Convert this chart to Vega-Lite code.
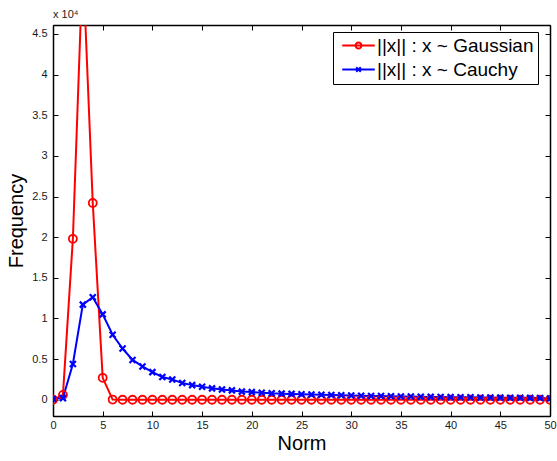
{
  "$schema": "https://vega.github.io/schema/vega-lite/v6.json",
  "autosize": {"type": "none"},
  "width": 497,
  "height": 391,
  "padding": {"left": 53, "top": 25, "right": 7, "bottom": 45},
  "background": "white",
  "config": {
    "font": "Liberation Sans",
    "view": {"stroke": "black", "strokeWidth": 1},
    "axis": {"labelFont": "Liberation Sans", "labelFontSize": 11, "labelColor": "#1a1a1a", "tickColor": "black", "domainColor": "black", "domainWidth": 1.5, "tickWidth": 1, "grid": false, "titleFont": "Liberation Sans", "titleFontWeight": "normal", "titleColor": "black"}
  },
  "title": {"text": "x 10⁴", "anchor": "start", "frame": "group", "fontSize": 11, "fontWeight": "normal", "font": "Liberation Sans", "offset": 5, "color": "#1a1a1a"},
  "data": {"values": [
    {"x": 0, "y": 0, "s": "||x|| : x ~ Gaussian"},
    {"x": 1, "y": 600, "s": "||x|| : x ~ Gaussian"},
    {"x": 2, "y": 19800, "s": "||x|| : x ~ Gaussian"},
    {"x": 3, "y": 54000, "s": "||x|| : x ~ Gaussian"},
    {"x": 4, "y": 24200, "s": "||x|| : x ~ Gaussian"},
    {"x": 5, "y": 2700, "s": "||x|| : x ~ Gaussian"},
    {"x": 6, "y": 20, "s": "||x|| : x ~ Gaussian"},
    {"x": 7, "y": 0, "s": "||x|| : x ~ Gaussian"},
    {"x": 8, "y": 0, "s": "||x|| : x ~ Gaussian"},
    {"x": 9, "y": 0, "s": "||x|| : x ~ Gaussian"},
    {"x": 10, "y": 0, "s": "||x|| : x ~ Gaussian"},
    {"x": 11, "y": 0, "s": "||x|| : x ~ Gaussian"},
    {"x": 12, "y": 0, "s": "||x|| : x ~ Gaussian"},
    {"x": 13, "y": 0, "s": "||x|| : x ~ Gaussian"},
    {"x": 14, "y": 0, "s": "||x|| : x ~ Gaussian"},
    {"x": 15, "y": 0, "s": "||x|| : x ~ Gaussian"},
    {"x": 16, "y": 0, "s": "||x|| : x ~ Gaussian"},
    {"x": 17, "y": 0, "s": "||x|| : x ~ Gaussian"},
    {"x": 18, "y": 0, "s": "||x|| : x ~ Gaussian"},
    {"x": 19, "y": 0, "s": "||x|| : x ~ Gaussian"},
    {"x": 20, "y": 0, "s": "||x|| : x ~ Gaussian"},
    {"x": 21, "y": 0, "s": "||x|| : x ~ Gaussian"},
    {"x": 22, "y": 0, "s": "||x|| : x ~ Gaussian"},
    {"x": 23, "y": 0, "s": "||x|| : x ~ Gaussian"},
    {"x": 24, "y": 0, "s": "||x|| : x ~ Gaussian"},
    {"x": 25, "y": 0, "s": "||x|| : x ~ Gaussian"},
    {"x": 26, "y": 0, "s": "||x|| : x ~ Gaussian"},
    {"x": 27, "y": 0, "s": "||x|| : x ~ Gaussian"},
    {"x": 28, "y": 0, "s": "||x|| : x ~ Gaussian"},
    {"x": 29, "y": 0, "s": "||x|| : x ~ Gaussian"},
    {"x": 30, "y": 0, "s": "||x|| : x ~ Gaussian"},
    {"x": 31, "y": 0, "s": "||x|| : x ~ Gaussian"},
    {"x": 32, "y": 0, "s": "||x|| : x ~ Gaussian"},
    {"x": 33, "y": 0, "s": "||x|| : x ~ Gaussian"},
    {"x": 34, "y": 0, "s": "||x|| : x ~ Gaussian"},
    {"x": 35, "y": 0, "s": "||x|| : x ~ Gaussian"},
    {"x": 36, "y": 0, "s": "||x|| : x ~ Gaussian"},
    {"x": 37, "y": 0, "s": "||x|| : x ~ Gaussian"},
    {"x": 38, "y": 0, "s": "||x|| : x ~ Gaussian"},
    {"x": 39, "y": 0, "s": "||x|| : x ~ Gaussian"},
    {"x": 40, "y": 0, "s": "||x|| : x ~ Gaussian"},
    {"x": 41, "y": 0, "s": "||x|| : x ~ Gaussian"},
    {"x": 42, "y": 0, "s": "||x|| : x ~ Gaussian"},
    {"x": 43, "y": 0, "s": "||x|| : x ~ Gaussian"},
    {"x": 44, "y": 0, "s": "||x|| : x ~ Gaussian"},
    {"x": 45, "y": 0, "s": "||x|| : x ~ Gaussian"},
    {"x": 46, "y": 0, "s": "||x|| : x ~ Gaussian"},
    {"x": 47, "y": 0, "s": "||x|| : x ~ Gaussian"},
    {"x": 48, "y": 0, "s": "||x|| : x ~ Gaussian"},
    {"x": 49, "y": 0, "s": "||x|| : x ~ Gaussian"},
    {"x": 50, "y": 0, "s": "||x|| : x ~ Gaussian"},
    {"x": 0, "y": 100, "s": "||x|| : x ~ Cauchy"},
    {"x": 1, "y": 200, "s": "||x|| : x ~ Cauchy"},
    {"x": 2, "y": 4400, "s": "||x|| : x ~ Cauchy"},
    {"x": 3, "y": 11700, "s": "||x|| : x ~ Cauchy"},
    {"x": 4, "y": 12600, "s": "||x|| : x ~ Cauchy"},
    {"x": 5, "y": 10500, "s": "||x|| : x ~ Cauchy"},
    {"x": 6, "y": 8000, "s": "||x|| : x ~ Cauchy"},
    {"x": 7, "y": 6300, "s": "||x|| : x ~ Cauchy"},
    {"x": 8, "y": 4900, "s": "||x|| : x ~ Cauchy"},
    {"x": 9, "y": 4100, "s": "||x|| : x ~ Cauchy"},
    {"x": 10, "y": 3400, "s": "||x|| : x ~ Cauchy"},
    {"x": 11, "y": 2800, "s": "||x|| : x ~ Cauchy"},
    {"x": 12, "y": 2500, "s": "||x|| : x ~ Cauchy"},
    {"x": 13, "y": 2050, "s": "||x|| : x ~ Cauchy"},
    {"x": 14, "y": 1800, "s": "||x|| : x ~ Cauchy"},
    {"x": 15, "y": 1600, "s": "||x|| : x ~ Cauchy"},
    {"x": 16, "y": 1400, "s": "||x|| : x ~ Cauchy"},
    {"x": 17, "y": 1250, "s": "||x|| : x ~ Cauchy"},
    {"x": 18, "y": 1150, "s": "||x|| : x ~ Cauchy"},
    {"x": 19, "y": 1000, "s": "||x|| : x ~ Cauchy"},
    {"x": 20, "y": 940, "s": "||x|| : x ~ Cauchy"},
    {"x": 21, "y": 860, "s": "||x|| : x ~ Cauchy"},
    {"x": 22, "y": 790, "s": "||x|| : x ~ Cauchy"},
    {"x": 23, "y": 750, "s": "||x|| : x ~ Cauchy"},
    {"x": 24, "y": 720, "s": "||x|| : x ~ Cauchy"},
    {"x": 25, "y": 680, "s": "||x|| : x ~ Cauchy"},
    {"x": 26, "y": 640, "s": "||x|| : x ~ Cauchy"},
    {"x": 27, "y": 610, "s": "||x|| : x ~ Cauchy"},
    {"x": 28, "y": 580, "s": "||x|| : x ~ Cauchy"},
    {"x": 29, "y": 550, "s": "||x|| : x ~ Cauchy"},
    {"x": 30, "y": 520, "s": "||x|| : x ~ Cauchy"},
    {"x": 31, "y": 490, "s": "||x|| : x ~ Cauchy"},
    {"x": 32, "y": 470, "s": "||x|| : x ~ Cauchy"},
    {"x": 33, "y": 450, "s": "||x|| : x ~ Cauchy"},
    {"x": 34, "y": 430, "s": "||x|| : x ~ Cauchy"},
    {"x": 35, "y": 410, "s": "||x|| : x ~ Cauchy"},
    {"x": 36, "y": 390, "s": "||x|| : x ~ Cauchy"},
    {"x": 37, "y": 370, "s": "||x|| : x ~ Cauchy"},
    {"x": 38, "y": 350, "s": "||x|| : x ~ Cauchy"},
    {"x": 39, "y": 340, "s": "||x|| : x ~ Cauchy"},
    {"x": 40, "y": 320, "s": "||x|| : x ~ Cauchy"},
    {"x": 41, "y": 310, "s": "||x|| : x ~ Cauchy"},
    {"x": 42, "y": 300, "s": "||x|| : x ~ Cauchy"},
    {"x": 43, "y": 280, "s": "||x|| : x ~ Cauchy"},
    {"x": 44, "y": 270, "s": "||x|| : x ~ Cauchy"},
    {"x": 45, "y": 260, "s": "||x|| : x ~ Cauchy"},
    {"x": 46, "y": 250, "s": "||x|| : x ~ Cauchy"},
    {"x": 47, "y": 240, "s": "||x|| : x ~ Cauchy"},
    {"x": 48, "y": 230, "s": "||x|| : x ~ Cauchy"},
    {"x": 49, "y": 220, "s": "||x|| : x ~ Cauchy"},
    {"x": 50, "y": 150, "s": "||x|| : x ~ Cauchy"}
  ]},
  "resolve": {"axis": {"x": "independent", "y": "independent"}},
  "layer": [
    {
      "mark": {"type": "line", "strokeWidth": 2, "clip": true},
      "encoding": {
        "x": {"field": "x", "type": "quantitative", "scale": {"domain": [0, 50], "nice": false, "zero": false},
          "axis": {"orient": "bottom", "values": [0,5,10,15,20,25,30,35,40,45,50], "tickSize": -5, "labelPadding": 8, "title": "Norm", "titleFontSize": 20, "titlePadding": 3, "labelFlush": false}},
        "y": {"field": "y", "type": "quantitative", "scale": {"domain": [-2000, 46100], "nice": false, "zero": false},
          "axis": {"orient": "left", "values": [0,5000,10000,15000,20000,25000,30000,35000,40000,45000], "labelExpr": "datum.value / 10000 + ''", "tickSize": -5, "labelPadding": 11, "title": "Frequency", "titleFontSize": 20, "titlePadding": 5}},
        "color": {"field": "s", "type": "nominal",
          "scale": {"domain": ["||x|| : x ~ Gaussian", "||x|| : x ~ Cauchy"], "range": ["#ff0000", "#0000ff"]},
          "legend": {
            "title": null, "orient": "none", "legendX": 280, "legendY": 7,
            "fillColor": "white", "strokeColor": "black", "padding": 4,
            "labelFontSize": 19, "labelFont": "Liberation Sans", "labelColor": "black", "labelLimit": 400,
            "symbolSize": 169, "symbolOffset": 12, "labelOffset": 9, "rowPadding": 4,
            "symbolStrokeWidth": 2,
            "encode": {"symbols": {"update": {
              "shape": {"signal": "datum.value == '||x|| : x ~ Gaussian' ? 'M-2.5,0L2.5,0M-0.46,0A0.46,0.46 0 1,0 0.46,0A0.46,0.46 0 1,0 -0.46,0' : 'M-2.5,0L2.5,0M-0.35,-0.35L0.35,0.35M-0.35,0.35L0.35,-0.35'"},
              "fill": {"value": "transparent"},
              "strokeWidth": {"value": 2}
            }}}
          }}
      }
    },
    {
      "transform": [{"filter": "datum.s == '||x|| : x ~ Gaussian'"}],
      "mark": {"type": "point", "shape": "circle", "filled": false, "color": "#ff0000", "size": 64, "strokeWidth": 1.8, "opacity": 1, "clip": true},
      "encoding": {
        "x": {"field": "x", "type": "quantitative", "scale": {"domain": [0, 50], "nice": false, "zero": false},
          "axis": {"orient": "top", "values": [0,5,10,15,20,25,30,35,40,45,50], "tickSize": -5, "labels": false, "title": null}},
        "y": {"field": "y", "type": "quantitative", "scale": {"domain": [-2000, 46100], "nice": false, "zero": false},
          "axis": {"orient": "right", "values": [0,5000,10000,15000,20000,25000,30000,35000,40000,45000], "tickSize": -5, "labels": false, "title": null}}
      }
    },
    {
      "transform": [{"filter": "datum.s == '||x|| : x ~ Cauchy'"}],
      "mark": {"type": "point", "shape": "M-1,-1L1,1M-1,1L1,-1", "filled": false, "color": "#0000ff", "size": 36, "strokeWidth": 2.2, "opacity": 1, "clip": true},
      "encoding": {
        "x": {"field": "x", "type": "quantitative", "scale": {"domain": [0, 50], "nice": false, "zero": false}, "axis": null},
        "y": {"field": "y", "type": "quantitative", "scale": {"domain": [-2000, 46100], "nice": false, "zero": false}, "axis": null}
      }
    }
  ]
}
